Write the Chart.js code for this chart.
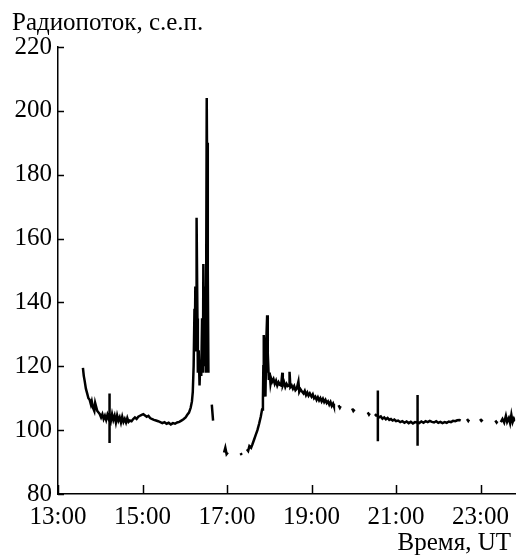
<!DOCTYPE html>
<html>
<head>
<meta charset="utf-8">
<script src="https://cdn.jsdelivr.net/npm/chart.js@4.4.0/dist/chart.umd.min.js"></script>
<style>
  html, body { margin: 0; padding: 0; background: #fff; }
  #wrap { width: 517px; height: 556px; }
</style>
</head>
<body>
<div id="wrap"><canvas id="fluxChart"></canvas></div>
<script>
// Time in hours UT, null flux = gap in the record
const times = [
  13.59, 13.61, 13.63, 13.66, 13.69, 13.72, 13.75, 13.78, 13.80, 13.83,
  13.86, 13.88, 13.90, 13.93, 13.96, 13.99, 14.02, 14.05, 14.08, 14.11,
  14.14, 14.17, 14.20, 14.22, 14.22, 14.22, 14.22, 14.25, 14.28, 14.31,
  14.34, 14.37, 14.40, 14.43, 14.46, 14.49, 14.52, 14.55, 14.58, 14.61,
  14.64, 14.67, 14.70, 14.74, 14.78, 14.82, 14.86, 14.90, 14.94, 14.98,
  15.02, 15.06, 15.10, 15.14, 15.18, 15.22, 15.27, 15.32, 15.37, 15.42,
  15.47, 15.52, 15.57, 15.62, 15.67, 15.72, 15.77, 15.82, 15.87, 15.92,
  15.97, 16.02, 16.06, 16.10, 16.14, 16.17, 16.19, 16.21, 16.23, 16.24,
  16.25, 16.27, 16.28, 16.30, 16.31, 16.33, 16.35, 16.37, 16.39, 16.41,
  16.43, 16.44, 16.46, 16.48, 16.50, 16.52, 16.53, 16.54, 16.55, 16.56,
  16.60,
  16.64, 16.67,
  16.80,
  16.93, 16.96, 16.99, 17.02,
  17.20,
  17.32, 17.35,
  17.40,
  17.47, 17.50, 17.53, 17.57, 17.60, 17.64, 17.68, 17.72, 17.76, 17.80,
  17.83, 17.85, 17.86, 17.87, 17.89, 17.90, 17.91, 17.93, 17.95, 17.96,
  17.97, 17.99, 18.01, 18.03, 18.05, 18.07, 18.10, 18.13, 18.16, 18.19,
  18.22, 18.25, 18.28, 18.31, 18.32, 18.35, 18.38, 18.41, 18.44, 18.47,
  18.48, 18.50, 18.53, 18.56, 18.59, 18.62, 18.65, 18.69, 18.71, 18.74,
  18.78, 18.81, 18.84, 18.87, 18.90, 18.93, 18.96, 19.00, 19.03, 19.06,
  19.09, 19.12, 19.15, 19.18, 19.21, 19.24, 19.27, 19.30, 19.33, 19.36,
  19.39, 19.42, 19.45, 19.48, 19.51, 19.53,
  19.60,
  19.64, 19.67, 19.69,
  19.80,
  19.96, 19.99, 20.02,
  20.20,
  20.33, 20.36, 20.38,
  20.45,
  20.50, 20.53, 20.57, 20.57, 20.57, 20.57, 20.60, 20.64, 20.68, 20.72,
  20.76, 20.80, 20.84, 20.88, 20.92, 20.96, 21.00, 21.05, 21.10, 21.15,
  21.20, 21.25, 21.30, 21.35, 21.40, 21.45, 21.51, 21.51, 21.51, 21.51,
  21.55, 21.60, 21.65, 21.70, 21.75, 21.80, 21.85, 21.90, 21.95, 22.00,
  22.05, 22.10, 22.15, 22.20, 22.25, 22.30, 22.35, 22.40, 22.45, 22.50,
  22.53,
  22.60,
  22.68, 22.71, 22.73,
  22.85,
  22.99, 23.02, 23.05,
  23.20,
  23.35, 23.38, 23.40,
  23.44,
  23.48, 23.52, 23.56, 23.60, 23.63, 23.67, 23.70, 23.73, 23.76, 23.79,
  23.82
];

const flux = [
  119.5, 117, 115.5, 113, 111.5, 110, 109.5, 108, 109, 107,
  106, 108.5, 107.5, 106, 105.5, 105, 104, 105, 103.5, 104.5,
  103.2, 104.8, 103.5, 104, 111.5, 96, 104, 102.8, 105, 103.2,
  104.5, 102.4, 104.6, 103, 104, 102.4, 104.2, 102.6, 103.5, 102.4,
  103.8, 102.6, 103, 102.8, 103.5, 104, 103.5, 104.2, 104.5, 104.8,
  105, 104.6, 104.2, 104.5, 103.8, 103.5, 103.2, 103, 102.8, 102.5,
  102.2, 102.5, 102, 102.3, 101.8, 102.2, 102, 102.4, 102.6, 103,
  103.4, 104, 104.8, 105.5, 107, 109, 112, 120, 138, 130,
  145, 125, 166.5, 135, 118, 125, 114, 122, 117, 135,
  118, 152, 120, 145, 118, 204, 180, 190, 150, 118,
  null,
  108, 103,
  null,
  93, 94.5, 92.5, 93,
  null,
  92.8, 92.2,
  null,
  94, 93.5, 95, 94.5, 95.5, 97, 98.5, 100, 102, 104.3,
  106.5, 109.5, 120, 129.8, 122, 112, 110.5, 128, 136, 118,
  124, 115.7, 118, 114.5, 116, 115.2, 116, 114.5, 115.5, 114,
  115, 114.2, 114, 118, 114, 115, 113.5, 114.5, 113.8, 114,
  118.3, 113.5, 114, 113, 113.8, 112.5, 113, 115.2, 112, 112.8,
  112, 111.5, 112.3, 111, 111.8, 110.8, 111.5, 110.5, 111.2, 110,
  110.5, 109.5, 110.3, 109.3, 110, 109, 109.8, 108.8, 109.5, 108.5,
  109, 108, 108.8, 107.6, 108.3, 107.5,
  null,
  107.8, 107, 107.5,
  null,
  106.8, 106, 106.5,
  null,
  105.6, 104.9, 105.3,
  null,
  105, 104.6, 104.8, 112.4, 96.5, 104.5, 104, 104.3, 103.6, 104,
  103.4, 103.8, 103.2, 103.5, 103, 103.3, 102.8, 103, 102.5, 102.8,
  102.3, 102.7, 102.2, 102.6, 102.1, 102.5, 102.3, 111, 95.1, 102.5,
  102.2, 102.7, 102.3, 102.8, 102.5, 102.9, 102.6, 102.4, 102.8, 102.3,
  102.6, 102.2, 102.5, 102.3, 102.7, 102.5, 102.9, 102.8, 103.1, 103.2,
  103,
  null,
  103.5, 102.9, 103.3,
  null,
  103.5, 102.9, 103.3,
  null,
  103, 102.4, 102.8,
  null,
  102.5, 103.5, 102.4, 104.5, 102.6, 103.8, 102.2, 104.8, 102.5, 103.6,
  102.8
];

const xTicks = [13, 15, 17, 19, 21, 23];
const yTicks = [80, 100, 120, 140, 160, 180, 200, 220];

const serif = 'Liberation Serif';

// inward tick marks and the two corner captions
const decor = {
  id: 'decor',
  afterDraw(chart) {
    const {ctx, chartArea, scales} = chart;
    ctx.save();
    ctx.strokeStyle = '#000';
    ctx.lineWidth = 1.5;
    ctx.beginPath();
    yTicks.forEach(v => {
      const py = Math.round(scales.y.getPixelForValue(v)) + 0.5;
      ctx.moveTo(chartArea.left, py);
      ctx.lineTo(chartArea.left + 6, py);
    });
    xTicks.forEach(v => {
      const px = Math.round(scales.x.getPixelForValue(v)) + 0.5;
      ctx.moveTo(px, chartArea.bottom);
      ctx.lineTo(px, chartArea.bottom - 9);
    });
    ctx.stroke();

    ctx.fillStyle = '#000';
    ctx.font = '25px "' + serif + '"';
    ctx.textBaseline = 'alphabetic';
    ctx.textAlign = 'left';
    ctx.fillText('Радиопоток, с.е.п.', 12, 30);
    ctx.textAlign = 'right';
    ctx.fillText('Время, UT', 511, 550);
    ctx.restore();
  }
};

const points = times.map((t, i) => ({x: t, y: flux[i]}));

new Chart(document.getElementById('fluxChart'), {
  type: 'line',
  data: {
    datasets: [{
      data: points,
      borderColor: '#000',
      borderWidth: 2.5,
      pointRadius: 0,
      tension: 0,
      spanGaps: false
    }]
  },
  options: {
    responsive: true,
    maintainAspectRatio: false,
    animation: false,
    layout: { padding: { top: 47, right: 0, bottom: 0, left: 0 } },
    plugins: {
      legend: { display: false },
      tooltip: { enabled: false }
    },
    scales: {
      x: {
        type: 'linear',
        min: 13,
        max: 23.82,
        afterBuildTicks: scale => { scale.ticks = xTicks.map(v => ({value: v})); },
        afterFit: scale => { scale.height = 62; },
        grid: { drawOnChartArea: false, drawTicks: false },
        border: { display: true, color: '#000', width: 1.5 },
        ticks: {
          padding: 8,
          color: '#000',
          maxRotation: 0,
          font: { family: serif, size: 25 },
          callback: v => v + ':00'
        }
      },
      y: {
        min: 80,
        max: 220,
        afterBuildTicks: scale => { scale.ticks = yTicks.map(v => ({value: v})); },
        afterFit: scale => { scale.width = 58; },
        grid: { drawOnChartArea: false, drawTicks: false },
        border: { display: true, color: '#000', width: 1.5 },
        ticks: {
          padding: 6,
          color: '#000',
          font: { family: serif, size: 25 }
        }
      }
    }
  },
  plugins: [decor]
});
</script>
</body>
</html>
